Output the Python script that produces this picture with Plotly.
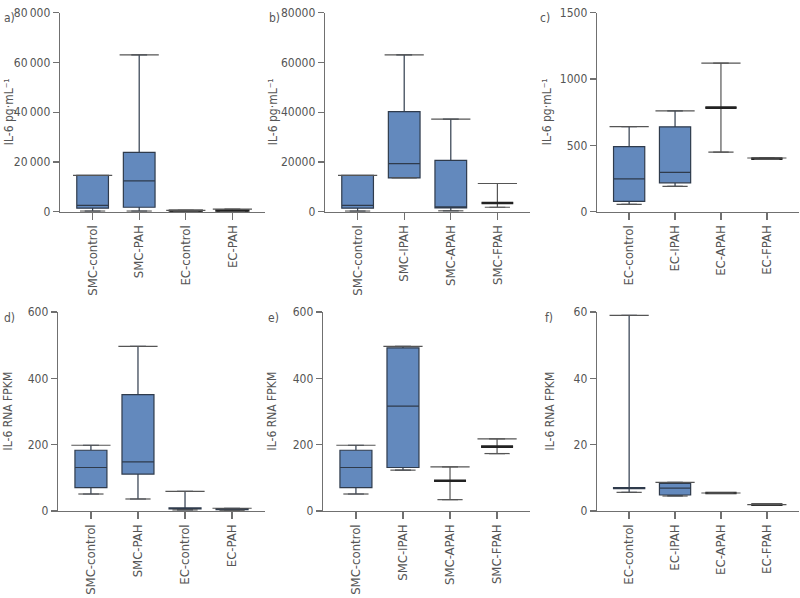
import plotly.graph_objects as go

# ---------------- data ----------------
cats_a = ["SMC-control", "SMC-PAH", "EC-control", "EC-PAH"]
a_low = [300, 300, 50, 100]
a_q1 = [1440, 1830, 100, 150]
a_med = [2600, 12400, 200, 250]
a_q3 = [14640, 23900, 400, 450]
a_high = [14640, 63000, 600, 1100]

cats_b = ["SMC-control", "SMC-IPAH", "SMC-APAH", "SMC-FPAH"]
b_low = [300, 13600, 400, 1830]
b_q1 = [1440, 13600, 1570, 3530]
b_med = [2600, 19350, 1570, 3530]
b_q3 = [14640, 40260, 20650, 3530]
b_high = [14640, 63000, 37250, 11370]

cats_c = ["EC-control", "EC-IPAH", "EC-APAH", "EC-FPAH"]
c_low = [56, 191, 449, 395]
c_q1 = [78, 218, 784, 400]
c_med = [248, 297, 784, 400]
c_q3 = [490, 640, 784, 400]
c_high = [642, 760, 1120, 405]

cats_d = ["SMC-control", "SMC-PAH", "EC-control", "EC-PAH"]
d_low = [51, 36, 3, 2]
d_q1 = [70, 111, 6, 4]
d_med = [131, 148, 8, 5]
d_q3 = [183, 351, 9, 7]
d_high = [198, 496, 59, 8]

cats_e = ["SMC-control", "SMC-IPAH", "SMC-APAH", "SMC-FPAH"]
e_low = [51, 123, 34, 173]
e_q1 = [70, 131, 91, 194]
e_med = [131, 316, 91, 194]
e_q3 = [183, 492, 91, 194]
e_high = [198, 496, 133, 217]

cats_f = ["EC-control", "EC-IPAH", "EC-APAH", "EC-FPAH"]
f_low = [5.6, 4.5, 5.4, 1.9]
f_q1 = [6.7, 4.8, 5.4, 1.9]
f_med = [6.8, 6.9, 5.4, 1.9]
f_q3 = [7.0, 8.3, 5.4, 1.9]
f_high = [59, 8.6, 5.4, 1.9]

yt_a = [0, 20000, 40000, 60000, 80000]
yl_a = ["0", "20\u2009000", "40\u2009000", "60\u2009000", "80\u2009000"]
yt_b = [0, 20000, 40000, 60000, 80000]
yl_b = ["0", "20000", "40000", "60000", "80000"]
yt_c = [0, 500, 1000, 1500]
yt_rna = [0, 200, 400, 600]
yt_f = [0, 20, 40, 60]

title_prot = "IL-6 pg·mL⁻¹"
title_rna = "IL-6 RNA FPKM"

# ---------------- style ----------------
W, H = 800, 598
FONT = "DejaVu Sans Condensed, Liberation Sans Narrow, Roboto, sans-serif"
TXT = "#555555"
FILL = "#6389bd"
EDGE = "#2f3b4c"
AX = "#707070"
WHISK = "#555555"

panels = [
    ("a)", cats_a, (a_low, a_q1, a_med, a_q3, a_high), [0, 80000], yt_a, yl_a, title_prot, (60, 265), (5.7, 209.7), 9, 2),
    ("b)", cats_b, (b_low, b_q1, b_med, b_q3, b_high), [0, 80000], yt_b, yl_b, title_prot, (325, 530), (5.7, 209.7), 273, 267),
    ("c)", cats_c, (c_low, c_q1, c_med, c_q3, c_high), [0, 1500], yt_c, None, title_prot, (597, 799), (5.7, 209.7), 547, 538),
    ("d)", cats_d, (d_low, d_q1, d_med, d_q3, d_high), [0, 600], yt_rna, None, title_rna, (58, 265), (312.3, 516), 8, 2),
    ("e)", cats_e, (e_low, e_q1, e_med, e_q3, e_high), [0, 600], yt_rna, None, title_rna, (323, 530), (312.3, 516), 272, 266),
    ("f)", cats_f, (f_low, f_q1, f_med, f_q3, f_high), [0, 60], yt_f, None, title_rna, (597, 799), (312.3, 516), 550, 543),
]

fig = go.Figure()
annotations = []
for i, (lab, cats, st, yr, tv, tl, ttl, xd, yd, tx, lx) in enumerate(panels):
    n = i + 1
    xa = "x" if n == 1 else f"x{n}"
    ya = "y" if n == 1 else f"y{n}"
    low, q1, med, q3, high = st
    for j, c in enumerate(cats):
        flat = (q3[j] - q1[j]) < 0.004 * yr[1]
        common = dict(x=[c], width=0.68, boxpoints=False, xaxis=xa, yaxis=ya,
                      showlegend=False, hoverinfo="skip")
        if not flat:
            fig.add_trace(go.Box(
                q1=[q1[j]], median=[med[j]], q3=[q3[j]],
                lowerfence=[low[j]], upperfence=[high[j]],
                fillcolor=FILL, line=dict(color=EDGE, width=1.2), **common,
            ))
        else:
            # thin whiskers
            fig.add_trace(go.Box(
                q1=[med[j]], median=[med[j]], q3=[med[j]],
                lowerfence=[low[j]], upperfence=[high[j]],
                fillcolor=FILL, line=dict(color=WHISK, width=1.2), **common,
            ))
            # thick median bar
            fig.add_trace(go.Box(
                q1=[q1[j]], median=[med[j]], q3=[q3[j]],
                lowerfence=[q1[j]], upperfence=[q3[j]],
                fillcolor="#222222", line=dict(color="#222222", width=2.6), **common,
            ))
    # whisker caps
    fig.add_trace(go.Scatter(
        x=cats, y=high, mode="markers", xaxis=xa, yaxis=ya, showlegend=False, hoverinfo="skip",
        marker=dict(symbol="line-ew", size=28, line=dict(color=WHISK, width=1.2)),
    ))
    fig.add_trace(go.Scatter(
        x=cats, y=low, mode="markers", xaxis=xa, yaxis=ya, showlegend=False, hoverinfo="skip",
        marker=dict(symbol="line-ew", size=18, line=dict(color=WHISK, width=1.2)),
    ))
    xkey = "xaxis" if n == 1 else f"xaxis{n}"
    ykey = "yaxis" if n == 1 else f"yaxis{n}"
    fig.layout[xkey] = dict(
        domain=[xd[0] / W, xd[1] / W], anchor=ya, type="category",
        categoryorder="array", categoryarray=cats, range=[-0.7, 3.7],
        showline=True, linecolor=AX, linewidth=1.3, ticks="outside", ticklen=7,
        tickcolor=AX, tickwidth=1.3, tickangle=-90, showgrid=False, zeroline=False,
        tickfont=dict(family=FONT, size=13, color=TXT), fixedrange=True,
    )
    yd_dict = dict(
        domain=[1 - yd[1] / H, 1 - yd[0] / H], anchor=xa, range=yr,
        tickvals=tv, showline=True, linecolor=AX, linewidth=1.3, ticks="outside",
        ticklen=6, tickcolor=AX, tickwidth=1.3, showgrid=False, zeroline=False,
        tickfont=dict(family=FONT, size=12, color=TXT), fixedrange=True,
    )
    if tl is not None:
        yd_dict["ticktext"] = tl
    fig.layout[ykey] = yd_dict
    ymid = 1 - (yd[0] + yd[1]) / 2 / H
    annotations.append(dict(
        text=ttl, xref="paper", yref="paper", x=tx / W, y=ymid, xanchor="center", yanchor="middle",
        textangle=-90, showarrow=False, font=dict(family=FONT, size=12, color=TXT),
    ))
    annotations.append(dict(
        text=lab, xref="paper", yref="paper", x=lx / W, y=1 - (yd[0] + 6) / H,
        xanchor="left", yanchor="middle", showarrow=False,
        font=dict(family=FONT, size=12, color=TXT),
    ))

fig.update_layout(
    width=W, height=H, margin=dict(l=0, r=0, t=0, b=0),
    paper_bgcolor="white", plot_bgcolor="white", boxmode="overlay",
    annotations=annotations, showlegend=False,
)
fig.write_html(
    "out.html",
    config={"displayModeBar": False, "staticPlot": True},
    post_script="document.body.style.margin='0px';",
)
